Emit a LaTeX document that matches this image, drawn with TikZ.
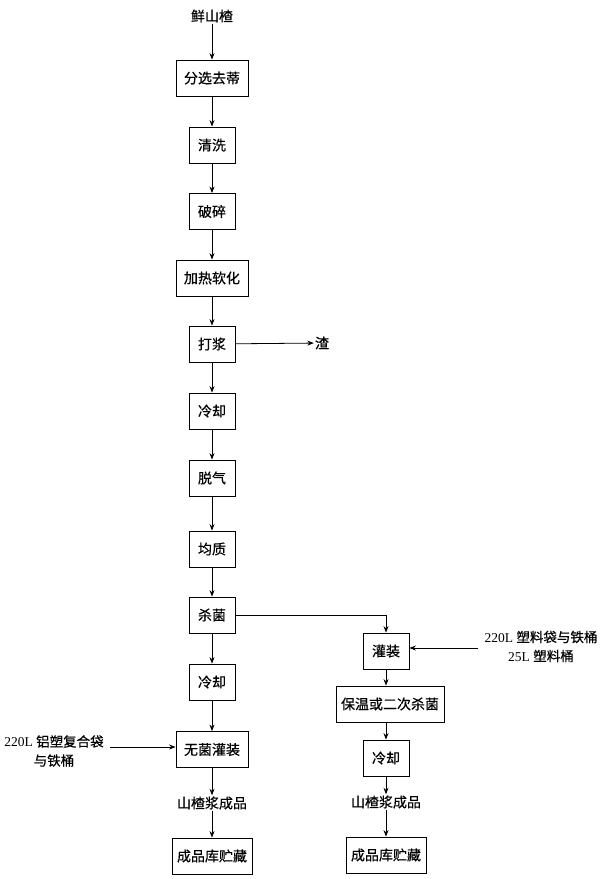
\documentclass[tikz,border=0pt]{standalone}
\usepackage{fontspec}
\setmainfont{Liberation Serif}
\newfontfamily\cjk[FakeBold=0.5]{Noto Sans CJK SC}
\usetikzlibrary{arrows.meta}
\begin{document}
\begin{tikzpicture}[x=1pt,y=-1pt,
 box/.style={draw, line width=0.8pt, minimum height=36pt, inner sep=2pt, font=\cjk\fontsize{14}{16}\selectfont},
 b2/.style={box, minimum width=46pt},
 b4/.style={box, minimum width=72pt},
 b5/.style={box, minimum width=80pt},
 txt/.style={inner sep=1pt, font=\cjk\fontsize{14}{16}\selectfont},
 lbl/.style={inner sep=0pt, align=center, font=\fontsize{13.5}{19}\selectfont},
 arr/.style={-{Stealth[length=6.5pt,width=5pt]}, line width=0.8pt}]
\fill[white] (0,0) rectangle (600,879);
\useasboundingbox (0,0) rectangle (600,879);
% main column
\node[txt] (raw) at (212,16) {鲜山楂};
\node[b4] (fx) at (212,78) {分选去蒂};
\node[b2] (qx) at (212,145) {清洗};
\node[b2] (ps) at (212,211.5) {破碎};
\node[b4] (jr) at (212,278) {加热软化};
\node[b2] (dj) at (212,344) {打浆};
\node[txt] (zha) at (322,343) {渣};
\node[b2] (lq1) at (212,411) {冷却};
\node[b2] (tq) at (212,478) {脱气};
\node[b2] (jz) at (212,549) {均质};
\node[b2] (sj) at (212,615) {杀菌};
\node[b2] (lq2) at (212,682) {冷却};
\node[b4] (wj) at (212,749.5) {无菌灌装};
\node[txt] (cp1) at (212,803) {山楂浆成品};
\node[b5] (ck1) at (212,856) {成品库贮藏};
% right column
\node[b2] (gz) at (386,651) {灌装};
\node[box, minimum width=108pt] (bw) at (390,704) {保温或二次杀菌};
\node[b2] (lq3) at (386,758) {冷却};
\node[txt] (cp2) at (386,802) {山楂浆成品};
\node[b5] (ck2) at (386,855) {成品库贮藏};
% labels
\node[lbl] (inL) at (54,751) {220L {\cjk 铝塑复合袋}\\{\cjk 与铁桶}};
\node[lbl] (inR) at (541,646.5) {220L {\cjk 塑料袋与铁桶}\\25L {\cjk 塑料桶}};
\coordinate (inLend) at (110,747);
\coordinate (inRend) at (478,648);
% arrows
\draw[arr] (raw) -- (fx);
\draw[arr] (fx) -- (qx);
\draw[arr] (qx) -- (ps);
\draw[arr] (ps) -- (jr);
\draw[arr] (jr) -- (dj);
\draw[arr] (dj) -- (zha);
\draw[arr] (dj) -- (lq1);
\draw[arr] (lq1) -- (tq);
\draw[arr] (tq) -- (jz);
\draw[arr] (jz) -- (sj);
\draw[arr] (sj) -- (lq2);
\draw[arr] (lq2) -- (wj);
\draw[arr] (wj) -- (cp1);
\draw[arr] (cp1) -- (ck1);
\draw[arr] (inLend) -- (wj.west |- inLend);
\draw[arr] (sj.east) -| (gz.north);
\draw[arr] (inRend) -- (gz.east |- inRend);
\draw[arr] (gz) -- (gz |- bw.north);
\draw[arr] (bw.south -| lq3) -- (lq3);
\draw[arr] (lq3) -- (cp2);
\draw[arr] (cp2) -- (ck2);
\end{tikzpicture}
\end{document}
